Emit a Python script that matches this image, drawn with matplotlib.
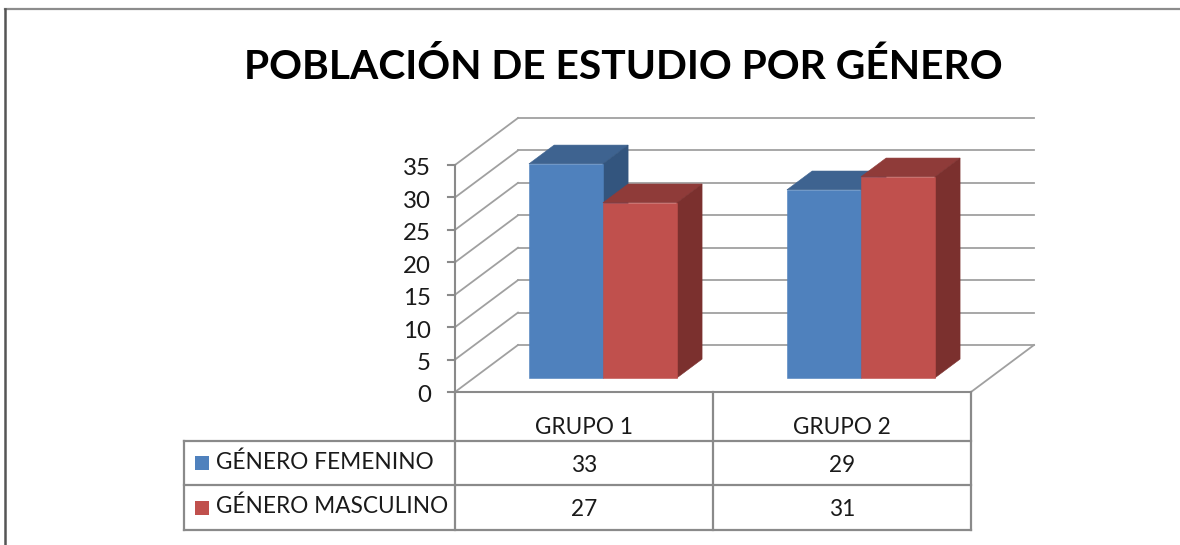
import matplotlib
matplotlib.use('Agg')
import matplotlib.pyplot as plt
from matplotlib.patches import Polygon, Rectangle

title = 'POBLACIÓN DE ESTUDIO POR GÉNERO'
categories = ['GRUPO 1', 'GRUPO 2']
series_names = ['GÉNERO FEMENINO', 'GÉNERO MASCULINO']
femenino = [33, 29]
masculino = [27, 31]
y_ticks = [0, 5, 10, 15, 20, 25, 30, 35]

W, H = 1180, 545
GRID = '#a0a0a0'
TABLE = '#8a8a8a'
TEXT = '#1a1a1a'
FONT = 'Lato'
LABEL_SIZE = 16.3

# depth of the fake 3D box, in data units
DEPTH_X = 63 / 258
DEPTH_Y = 47 / 6.486
BAR_W = 0.2867
GAP = 0.2133
BAR_NEAR = 0.3
BAR_FAR = 0.7

FRONT = ['#4f81bd', '#c0504d']
TOP = ['#3e6390', '#8f3b39']
SIDE = ['#33557e', '#7b302e']


def proj(x, y, d):
    return (x + d * DEPTH_X, y + d * DEPTH_Y)


def draw_bar(ax, x0, val, i):
    x1 = x0 + BAR_W
    n, f = BAR_NEAR, BAR_FAR
    faces = [
        ([proj(x0, val, n), proj(x1, val, n), proj(x1, val, f), proj(x0, val, f)], TOP[i]),
        ([proj(x1, 0, n), proj(x1, 0, f), proj(x1, val, f), proj(x1, val, n)], SIDE[i]),
        ([proj(x0, 0, n), proj(x1, 0, n), proj(x1, val, n), proj(x0, val, n)], FRONT[i]),
    ]
    for pts, col in faces:
        ax.add_patch(Polygon(pts, fc=col, ec=col, lw=0.4, zorder=3 + i, clip_on=False))


fig = plt.figure(figsize=(W / 100, H / 100), dpi=100, facecolor='white')

# overlay in pixel coordinates for frame, title and table
pix = fig.add_axes([0, 0, 1, 1])
pix.set_xlim(0, W)
pix.set_ylim(H, 0)
pix.axis('off')

pix.plot([5, W], [9, 9], color='#8c8c8c', lw=1.6)
pix.plot([5, 5], [9, H], color='#555555', lw=1.8)
pix.text(623, 67, title, ha='center', va='center', fontsize=29.3, fontweight='bold',
         family=FONT, color='black')

# main plot: the front plane of the box
ax = fig.add_axes([455 / W, 1 - 392 / H, 516 / W, 227 / H])
ax.set_xlim(0, 2)
ax.set_ylim(0, 35)
ax.axis('off')

for v in y_ticks:
    bx, by = proj(2, v, 1)
    lx, ly = proj(0, v, 1)
    ax.plot([0, lx], [v, ly], color=GRID, lw=1.3, clip_on=False, zorder=1)
    ax.plot([lx, bx], [ly, by], color=GRID, lw=1.3, clip_on=False, zorder=1)
    ax.plot([-0.028, 0], [v, v], color=TABLE, lw=1.5, clip_on=False, zorder=2)
    ax.text(-0.093, v - 0.6, str(v), ha='right', va='center', fontsize=LABEL_SIZE + 1, family=FONT, color=TEXT)

ax.plot([0, 2], [0, 0], color=TABLE, lw=1.5, clip_on=False, zorder=2)
ax.plot([0, 0], [0, 35], color=TABLE, lw=1.5, clip_on=False, zorder=2)
fx, fy = proj(2, 0, 1)
ax.plot([2, fx], [0, fy], color=GRID, lw=1.3, clip_on=False, zorder=1)

for g in range(len(categories)):
    draw_bar(ax, g + GAP, femenino[g], 0)
    draw_bar(ax, g + GAP + BAR_W, masculino[g], 1)

# data table under the plot
col_x = [184, 455, 713, 971]
row_y = [392, 441, 485, 530]

for x in col_x[1:]:
    pix.plot([x, x], [row_y[0], row_y[-1]], color=TABLE, lw=1.6)
pix.plot([col_x[0], col_x[0]], [row_y[1], row_y[-1]], color=TABLE, lw=1.6)
for y in row_y[1:]:
    pix.plot([col_x[0], col_x[-1]], [y, y], color=TABLE, lw=1.6)

for j, cat in enumerate(categories):
    cx = (col_x[j + 1] + col_x[j + 2]) / 2
    pix.text(cx, 427, cat, ha='center', va='center', fontsize=LABEL_SIZE, family=FONT, color=TEXT)
    pix.text(cx, 466, str(femenino[j]), ha='center', va='center', fontsize=LABEL_SIZE, family=FONT, color=TEXT)
    pix.text(cx, 509, str(masculino[j]), ha='center', va='center', fontsize=LABEL_SIZE, family=FONT, color=TEXT)

for i, name in enumerate(series_names):
    yc = (row_y[i + 1] + row_y[i + 2]) / 2
    pix.add_patch(Rectangle((195, yc - 7), 14, 14, fc=FRONT[i], ec='none'))
    pix.text(216, yc - 1, name, ha='left', va='center', fontsize=LABEL_SIZE, family=FONT, color=TEXT)

fig.savefig('out.png', dpi=100)
